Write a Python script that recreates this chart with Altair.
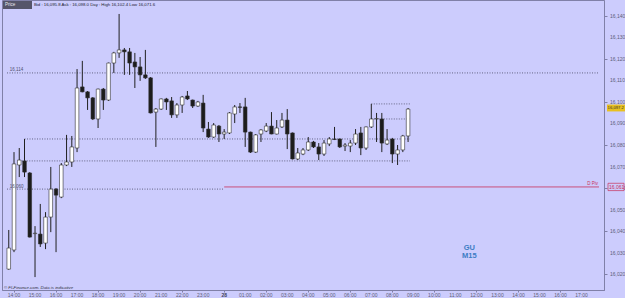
import altair as alt
import pandas as pd

# ---- candle data (GU, M15) ----
start_time = "2014-01-27 13:45"
n_candles = 77
opens = [16022.3, 16031.2, 16070.7, 16072.6, 16067.0, 16038.8, 16038.6, 16034.4, 16046.5, 16059.5,
         16055.8, 16070.7, 16072.1, 16078.6, 16107.0, 16104.7, 16101.9, 16092.1, 16106.0, 16100.9,
         16118.1, 16122.8, 16124.2, 16123.3, 16118.6, 16116.3, 16112.6, 16111.2, 16095.3, 16096.7,
         16101.4, 16100.5, 16094.0, 16098.6, 16102.8, 16100.9, 16098.1, 16099.5, 16087.4, 16083.7,
         16088.8, 16085.1, 16085.6, 16094.4, 16097.7, 16097.7, 16086.0, 16076.7, 16085.1, 16086.5,
         16088.8, 16085.1, 16088.4, 16091.6, 16085.6, 16073.5, 16075.8, 16077.7, 16081.4, 16079.1,
         16075.8, 16080.5, 16082.8, 16082.8, 16079.5, 16079.5, 16080.9, 16085.6, 16078.6, 16088.4,
         16092.1, 16092.1, 16080.5, 16082.8, 16075.8, 16077.7, 16084.2]
highs = [16040.5, 16076.7, 16078.6, 16082.8, 16067.4, 16042.3, 16052.6, 16048.8, 16069.8, 16060.0,
         16071.6, 16084.7, 16084.2, 16115.3, 16119.1, 16105.1, 16102.3, 16106.2, 16106.5, 16118.3,
         16123.3, 16140.9, 16125.1, 16125.1, 16122.8, 16120.9, 16124.2, 16111.6, 16097.2, 16101.6,
         16101.9, 16102.3, 16099.5, 16102.8, 16105.1, 16101.1, 16100.5, 16103.3, 16090.7, 16090.2,
         16089.3, 16087.4, 16095.3, 16098.6, 16099.5, 16101.9, 16086.2, 16085.1, 16087.4, 16090.2,
         16095.3, 16091.6, 16094.9, 16096.7, 16085.8, 16078.6, 16078.6, 16083.7, 16081.9, 16080.9,
         16082.3, 16083.7, 16088.4, 16083.0, 16080.9, 16082.3, 16087.4, 16088.4, 16088.6, 16099.1,
         16094.9, 16094.9, 16087.4, 16083.3, 16080.0, 16084.7, 16097.2]
lows = [16021.9, 16030.2, 16065.1, 16065.1, 16037.0, 16018.6, 16032.6, 16031.6, 16039.5, 16030.2,
        16055.3, 16070.2, 16069.8, 16076.7, 16104.5, 16096.3, 16091.6, 16087.9, 16096.3, 16100.5,
        16113.5, 16120.5, 16112.6, 16112.6, 16106.5, 16109.8, 16110.7, 16094.7, 16079.1, 16096.3,
        16096.3, 16092.6, 16092.6, 16094.9, 16100.9, 16097.2, 16097.7, 16086.0, 16083.3, 16083.3,
        16081.4, 16082.8, 16085.1, 16090.2, 16094.9, 16079.1, 16076.3, 16076.3, 16081.4, 16086.0,
        16085.0, 16084.9, 16087.9, 16078.1, 16073.3, 16073.0, 16075.3, 16077.2, 16078.6, 16073.0,
        16074.9, 16079.5, 16082.3, 16078.6, 16077.2, 16076.7, 16080.0, 16075.3, 16077.7, 16087.9,
        16081.4, 16076.7, 16080.0, 16071.6, 16070.7, 16076.7, 16081.4]
closes = [16032.1, 16071.2, 16073.0, 16067.4, 16037.2, 16039.0, 16034.0, 16046.5, 16059.5, 16056.7,
          16070.7, 16072.1, 16079.1, 16106.5, 16104.7, 16101.9, 16092.1, 16106.0, 16100.9, 16118.1,
          16122.8, 16124.2, 16123.3, 16118.1, 16116.3, 16112.6, 16111.2, 16094.9, 16096.7, 16101.4,
          16100.0, 16094.0, 16098.6, 16102.3, 16101.4, 16098.1, 16100.0, 16087.9, 16083.7, 16089.3,
          16085.1, 16086.0, 16094.9, 16097.7, 16097.5, 16086.0, 16076.7, 16084.7, 16087.0, 16088.8,
          16085.1, 16087.9, 16091.6, 16085.1, 16073.5, 16076.3, 16077.7, 16081.4, 16079.1, 16075.8,
          16080.9, 16082.8, 16082.6, 16079.1, 16080.0, 16080.9, 16085.1, 16078.6, 16088.4, 16092.1,
          16092.3, 16080.9, 16082.3, 16075.8, 16077.7, 16084.2, 16096.7]

# horizontal support / resistance levels (dotted)
level_prices = [16113.5, 16082.8, 16072.6, 16059.5, 16099.1, 16092.1]
level_starts = ["2014-01-27 13:40", "2014-01-27 14:30", "2014-01-27 14:15",
                "2014-01-27 13:40", "2014-01-28 07:00", "2014-01-28 07:00"]
level_ends = ["2014-01-28 17:50", "2014-01-28 08:50", "2014-01-28 08:50",
              "2014-01-28 00:00", "2014-01-28 08:50", "2014-01-28 08:50"]

# daily pivot (red)
pivot_price = 16060.5
pivot_start = "2014-01-28 00:00"
pivot_end = "2014-01-28 17:50"

last_price = 16097.2
y_ticks = list(range(16020, 16141, 10))
y_tick_labels = [f"{v:,}" for v in y_ticks]
x_tick_hours = pd.date_range("2014-01-27 14:00", "2014-01-28 17:00", freq="1h")
x_tick_labels = ["28" if t.hour == 0 else t.strftime("%H:%M") for t in x_tick_hours]

header_text = "Bid : 16,095.8  Ask : 16,098.0  Day : High 16,102.4  Low 16,071.6"
footer_text = "\u00a9 FI-Finance.com. Data is indicative"

BG = "#ccccfd"
AX = "#8080a8"
LBL = "#5e5e78"
FONT = "Liberation Sans"


def iso(s):
    return pd.Timestamp(s).strftime("%Y-%m-%dT%H:%M:%S")


x_scale = alt.Scale(domain=[alt.DateTime(year=2014, month=1, date=27, hours=13, minutes=40),
                            alt.DateTime(year=2014, month=1, date=28, hours=17, minutes=50)])
y_scale = alt.Scale(domain=[16012.6, 16147.4], nice=False, zero=False)

times = pd.date_range(start_time, periods=n_candles, freq="15min")
df = pd.DataFrame({"t": times.strftime("%Y-%m-%dT%H:%M:%S"), "o": opens, "h": highs, "l": lows, "c": closes})
df["fillc"] = ["#ffffff" if c >= o else "#1c1c1c" for o, c in zip(opens, closes)]

x_axis = alt.Axis(
    orient="bottom", title=None, grid=False, labels=False,
    values=[alt.DateTime(year=t.year, month=t.month, date=t.day, hours=t.hour) for t in x_tick_hours],
    tickSize=2, tickColor=AX, domainColor=AX,
)
y_axis = alt.Axis(
    orient="right", title=None, grid=False, labels=False, values=y_ticks,
    tickSize=3, tickColor=AX, domainColor=AX,
)

base = alt.Chart(df)

wicks = base.mark_rule(color="#202020", strokeWidth=1).encode(
    x=alt.X("t:T", scale=x_scale, axis=x_axis),
    y=alt.Y("l:Q", scale=y_scale, axis=y_axis),
    y2="h:Q",
)

bodies = base.mark_bar(size=3.6, stroke="#303030", strokeWidth=0.6).encode(
    x=alt.X("t:T", scale=x_scale),
    y=alt.Y("o:Q", scale=y_scale),
    y2="c:Q",
    color=alt.Color("fillc:N", scale=None),
)

# axis labels drawn through the scales
ylab_df = pd.DataFrame({"v": y_ticks, "txt": y_tick_labels})
ylabels = alt.Chart(ylab_df).mark_text(fontSize=5, color=LBL, align="left", font=FONT).encode(
    x=alt.value(608), y=alt.Y("v:Q", scale=y_scale), text="txt:N")

xlab_df = pd.DataFrame({"t": x_tick_hours.strftime("%Y-%m-%dT%H:%M:%S"), "txt": x_tick_labels})
xlabels = alt.Chart(xlab_df).mark_text(fontSize=5, color=LBL, font=FONT).encode(
    x=alt.X("t:T", scale=x_scale), y=alt.value(294.5), text="txt:N"
).transform_filter("datum.txt != '28'")
xlabel_day = alt.Chart(xlab_df).mark_text(fontSize=5, color="#404058", font=FONT, fontWeight="bold").encode(
    x=alt.X("t:T", scale=x_scale), y=alt.value(294.5), text="txt:N"
).transform_filter("datum.txt == '28'")

lv = pd.DataFrame({"p": level_prices, "s": [iso(s) for s in level_starts], "e": [iso(e) for e in level_ends]})
levels = alt.Chart(lv).mark_rule(color="#4a4a66", strokeWidth=0.8, strokeDash=[1, 1.5]).encode(
    x=alt.X("s:T", scale=x_scale), x2="e:T", y=alt.Y("p:Q", scale=y_scale)
)

pv = pd.DataFrame({"p": [pivot_price], "s": [iso(pivot_start)], "e": [iso(pivot_end)]})
pivot = alt.Chart(pv).mark_rule(color="#c8305a", strokeWidth=0.8).encode(
    x=alt.X("s:T", scale=x_scale), x2="e:T", y=alt.Y("p:Q", scale=y_scale)
)
pivot_lbl = alt.Chart(pv).mark_text(
    text="D Piv", color="#c8305a", fontSize=4.5, align="right", baseline="bottom", dx=-1, dy=-0.5,
    font=FONT).encode(x=alt.X("e:T", scale=x_scale), y=alt.Y("p:Q", scale=y_scale))

# left labels of two levels
ll = pd.DataFrame({"p": [level_prices[0], level_prices[3]],
                   "s": ["2014-01-27T13:48:00", "2014-01-27T13:48:00"],
                   "txt": ["16,114", "16,060"]})
left_lbls = alt.Chart(ll).mark_text(
    fontSize=4.5, color="#505070", align="left", baseline="bottom", dy=-0.5, font=FONT
).encode(x=alt.X("s:T", scale=x_scale), y=alt.Y("p:Q", scale=y_scale), text="txt:N")

# price boxes on the axis
lp = pd.DataFrame({"p": [last_price], "a": [last_price + 1.6], "b": [last_price - 1.6], "txt": ["16,097.2"]})
last_box = alt.Chart(lp).mark_rect(color="#e8c020").encode(
    x=alt.value(605), x2=alt.value(625),
    y=alt.Y("a:Q", scale=y_scale), y2="b:Q",
)
last_txt = alt.Chart(lp).mark_text(fontSize=4.2, color="#303030", align="left", font=FONT).encode(
    x=alt.value(605.6), y=alt.Y("p:Q", scale=y_scale), text="txt:N")

pp = pd.DataFrame({"p": [pivot_price], "a": [pivot_price + 1.7], "b": [pivot_price - 1.7], "txt": ["16,061"]})
piv_box = alt.Chart(pp).mark_rect(fill=BG, stroke="#c8305a", strokeWidth=0.7).encode(
    x=alt.value(606), x2=alt.value(622),
    y=alt.Y("a:Q", scale=y_scale), y2="b:Q",
)
piv_txt = alt.Chart(pp).mark_text(fontSize=5, color="#c8305a", align="left", font=FONT).encode(
    x=alt.value(607), y=alt.Y("p:Q", scale=y_scale), text="txt:N")

# symbol / timeframe label
sym = pd.DataFrame({"t": ["2014-01-28T11:40:00", "2014-01-28T11:40:00"],
                    "p": [16031.9, 16028.3], "txt": ["GU", "M15"]})
sym_txt = alt.Chart(sym).mark_text(fontSize=7.5, fontWeight="bold", color="#3d7cc4", font=FONT).encode(
    x=alt.X("t:T", scale=x_scale), y=alt.Y("p:Q", scale=y_scale), text="txt:N")

one = pd.DataFrame({"k": [0]})
price_box = alt.Chart(one).mark_rect(color="#55556a").encode(
    x=alt.value(1), x2=alt.value(30), y=alt.value(1), y2=alt.value(9))
price_txt = alt.Chart(one).mark_text(text="Price", fontSize=4.5, color="#e8e8f0", align="left",
                                     font=FONT).encode(x=alt.value(3), y=alt.value(5))
header = alt.Chart(one).mark_text(text=header_text, fontSize=4.3, color="#202030", align="left",
                                  font=FONT).encode(x=alt.value(32), y=alt.value(5))
footer = alt.Chart(one).mark_text(text=footer_text, fontSize=4.3, color="#303040", align="left",
                                  fontStyle="italic", font=FONT).encode(
    x=alt.value(2), y=alt.value(288))

chart = alt.layer(
    levels, pivot, wicks, bodies, ylabels, xlabels, xlabel_day, pivot_lbl, left_lbls,
    last_box, last_txt, piv_box, piv_txt, sym_txt, price_box, price_txt, header, footer
).properties(
    width=602, height=290,
    autosize=alt.AutoSizeParams(type="none"),
    padding={"left": 2, "top": 0, "right": 21, "bottom": 8},
    background=BG,
).configure_view(fill=BG, stroke=AX, strokeWidth=1)

chart.save("out.html", embed_options={"renderer": "svg", "actions": False})
